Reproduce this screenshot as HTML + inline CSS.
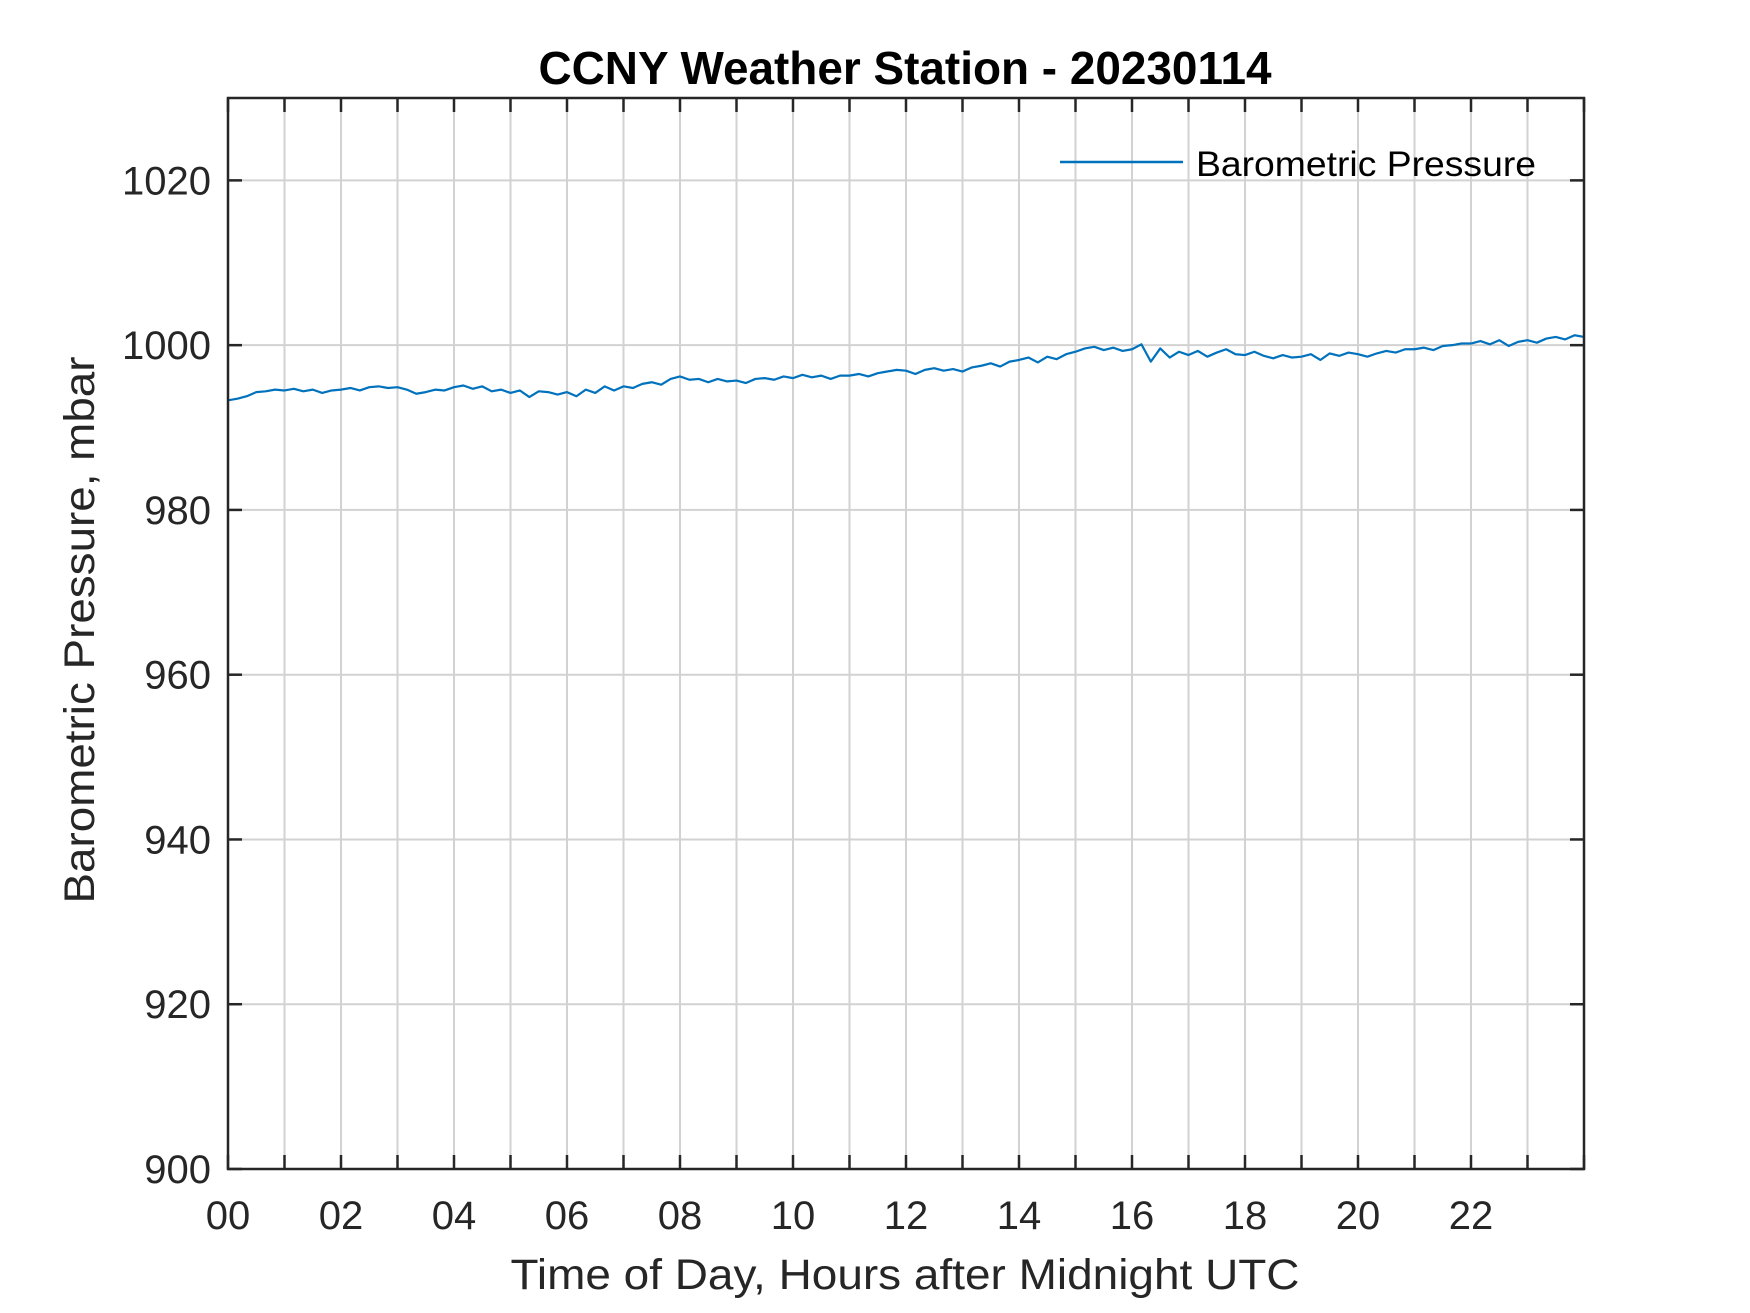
<!DOCTYPE html>
<html><head><meta charset="utf-8"><style>
html,body{margin:0;padding:0;background:#fff;}
svg{display:block;font-family:"Liberation Sans",Arial,sans-serif;}
</style></head><body>
<svg id="chart" width="1750" height="1313" viewBox="0 0 1750 1313" xmlns="http://www.w3.org/2000/svg">
<rect x="0" y="0" width="1750" height="1313" fill="#fff"/>
<g id="grid"></g>
<g id="series"></g>
<g id="axes"></g>
<text x="905" y="84" text-anchor="middle" font-size="46" font-weight="bold" fill="#000" textLength="733" lengthAdjust="spacingAndGlyphs">CCNY Weather Station - 20230114</text>
<text x="905" y="1289" text-anchor="middle" font-size="43" fill="#262626" textLength="789" lengthAdjust="spacingAndGlyphs">Time of Day, Hours after Midnight UTC</text>
<text transform="translate(94,630) rotate(-90)" text-anchor="middle" font-size="43" fill="#262626" textLength="547" lengthAdjust="spacingAndGlyphs">Barometric Pressure, mbar</text>
<g>
<line x1="1060" y1="162" x2="1183" y2="162" stroke="#0072BD" stroke-width="2.5"/>
<text x="1196" y="176" font-size="35" fill="#000" textLength="340" lengthAdjust="spacingAndGlyphs">Barometric Pressure</text>
</g>
</svg>
<script>
const xTicks = [0,1,2,3,4,5,6,7,8,9,10,11,12,13,14,15,16,17,18,19,20,21,22,23,24];
const xTickLabels = ["00","02","04","06","08","10","12","14","16","18","20","22"];
const xTickLabelValues = [0,2,4,6,8,10,12,14,16,18,20,22];
const yTicks = [900,920,940,960,980,1000,1020];
const stepHours = 1/6;
const pressure = [
993.3,993.5,993.8,994.3,994.4,994.6,
994.5,994.7,994.4,994.6,994.2,994.5,
994.6,994.8,994.5,994.9,995.0,994.8,
994.9,994.6,994.1,994.3,994.6,994.5,
994.9,995.1,994.7,995.0,994.4,994.6,
994.2,994.5,993.7,994.4,994.3,994.0,
994.3,993.8,994.6,994.2,995.0,994.5,
995.0,994.8,995.3,995.5,995.2,995.9,
996.2,995.8,995.9,995.5,995.9,995.6,
995.7,995.4,995.9,996.0,995.8,996.2,
996.0,996.4,996.1,996.3,995.9,996.3,
996.3,996.5,996.2,996.6,996.8,997.0,
996.9,996.5,997.0,997.2,996.9,997.1,
996.8,997.3,997.5,997.8,997.4,998.0,
998.2,998.5,997.9,998.6,998.3,998.9,
999.2,999.6,999.8,999.4,999.7,999.3,
999.5,1000.1,998.0,999.6,998.5,999.2,
998.8,999.3,998.6,999.1,999.5,998.9,
998.8,999.2,998.7,998.4,998.8,998.5,
998.6,998.9,998.2,999.0,998.7,999.1,
998.9,998.6,999.0,999.3,999.1,999.5,
999.5,999.7,999.4,999.9,1000.0,1000.2,
1000.2,1000.5,1000.1,1000.6,999.9,1000.4,
1000.6,1000.3,1000.8,1001.0,1000.7,1001.2,1001.0
];
const NS="http://www.w3.org/2000/svg";
const L=228,R=1584,T=98,B=1169,X0=0,X1=24,Y0=900,Y1=1030;
const xs=v=>L+(v-X0)/(X1-X0)*(R-L);
const ys=v=>B-(v-Y0)/(Y1-Y0)*(B-T);
function mk(tag,attrs,parent){const e=document.createElementNS(NS,tag);for(const k in attrs)e.setAttribute(k,attrs[k]);parent.appendChild(e);return e;}
const grid=document.getElementById('grid'),axes=document.getElementById('axes'),series=document.getElementById('series');
xTicks.forEach(t=>{
 if(t>0&&t<24){const g=mk('line',{x1:xs(t),x2:xs(t),y1:T,y2:B,stroke:'#d2d2d2','stroke-width':2},grid);
 
 }
 const a=mk('line',{x1:xs(t),x2:xs(t),y1:B,y2:B-14,stroke:'#262626','stroke-width':2.5},axes);
 
 
 const b=mk('line',{x1:xs(t),x2:xs(t),y1:T,y2:T+14,stroke:'#262626','stroke-width':2.5},axes);
 
 
});
yTicks.forEach(t=>{
 const g=mk('line',{x1:L,x2:R,y1:ys(t),y2:ys(t),stroke:'#d2d2d2','stroke-width':2},grid);
 
 
 const a=mk('line',{x1:L,x2:L+14,y1:ys(t),y2:ys(t),stroke:'#262626','stroke-width':2.5},axes);
 
 
 const b=mk('line',{x1:R,x2:R-14,y1:ys(t),y2:ys(t),stroke:'#262626','stroke-width':2.5},axes);
 
 
 const lb=mk('text',{x:L-17,y:ys(t)+14,'text-anchor':'end','font-size':40,fill:'#262626'},axes);
 lb.textContent=String(t);
 
 
});
xTickLabelValues.forEach((v,i)=>{
 const lb=mk('text',{x:xs(v),y:1229,'text-anchor':'middle','font-size':40,fill:'#262626'},axes);
 lb.textContent=xTickLabels[i];
 
 
});
const box=mk('rect',{x:L,y:T,width:R-L,height:B-T,fill:'none',stroke:'#262626','stroke-width':2.5},axes);


const d=pressure.map((p,i)=>(i?'L':'M')+xs(i*stepHours).toFixed(2)+','+ys(p).toFixed(2)).join('');
const path=mk('path',{d:d,fill:'none',stroke:'#0072BD','stroke-width':2.2,'stroke-linejoin':'round'},series);


</script>
</body></html>
